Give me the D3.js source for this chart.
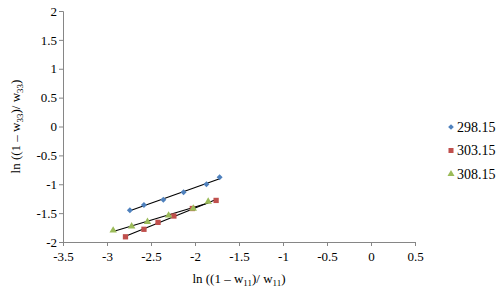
<!DOCTYPE html>
<html>
<head>
<meta charset="utf-8">
<script src="https://cdn.jsdelivr.net/npm/d3@7"></script>
<style>
  body { margin: 0; background: #fff; }
  svg text { font-family: "Liberation Serif", "Times New Roman", Tinos, serif; fill: #000; }
</style>
</head>
<body>
<div id="container"></div>
<script>
/* CONSTANTS AND GLOBALS */
const width = 500,
  height = 297,
  margin = { top: 11, bottom: 55, left: 63, right: 85 },
  serif = "'Liberation Serif', 'Times New Roman', serif";

// series data
const seriesNames = ["298.15", "303.15", "308.15"];
const seriesColors = ["#4F81BD", "#C0504D", "#9BBB59"];
const x298 = [-2.74, -2.58, -2.36, -2.13, -1.87, -1.72];
const y298 = [-1.45, -1.36, -1.27, -1.14, -1.00, -0.88];
const x303 = [-2.79, -2.58, -2.42, -2.24, -2.03, -1.76];
const y303 = [-1.91, -1.78, -1.66, -1.55, -1.42, -1.28];
const x308 = [-2.93, -2.72, -2.54, -2.30, -2.02, -1.85];
const y308 = [-1.80, -1.73, -1.65, -1.54, -1.42, -1.30];
const xTicks = [-3.5, -3, -2.5, -2, -1.5, -1, -0.5, 0, 0.5];
const yTicks = [-2, -1.5, -1, -0.5, 0, 0.5, 1, 1.5, 2];

const series = [
  { name: seriesNames[0], color: seriesColors[0], shape: d3.symbolSquare, rot: 45, size: 18, xs: x298, ys: y298 },
  { name: seriesNames[1], color: seriesColors[1], shape: d3.symbolSquare, rot: 0, size: 28, xs: x303, ys: y303 },
  { name: seriesNames[2], color: seriesColors[2], shape: d3.symbolTriangle, rot: 0, size: 24, xs: x308, ys: y308 }
];
series.forEach(s => { s.points = s.xs.map((x, i) => ({ x: x, y: s.ys[i] })); });

/* SCALES */
const xScale = d3.scaleLinear()
  .domain([-3.5, 0.5])
  .range([margin.left, width - margin.right]);

const yScale = d3.scaleLinear()
  .domain([-2, 2])
  .range([height - margin.bottom, margin.top]);

const svg = d3.select("#container")
  .append("svg")
  .attr("width", width)
  .attr("height", height)
  .attr("font-family", serif);

// y axis
const yAxis = svg.append("g")
  .attr("transform", `translate(${margin.left}, 0)`)
  .call(d3.axisLeft(yScale).tickValues(yTicks).tickSize(4).tickFormat(d => String(d)));
yAxis.attr("font-family", serif).attr("font-size", 13);
yAxis.selectAll("path, line").attr("stroke", "#868686");
yAxis.selectAll("text").attr("x", -6);

// x axis at y = -2
const xAxis = svg.append("g")
  .attr("transform", `translate(0, ${yScale(-2)})`)
  .call(d3.axisBottom(xScale).tickValues(xTicks).tickSize(4).tickFormat(d => String(d)));
xAxis.attr("font-family", serif).attr("font-size", 13);
xAxis.selectAll("path, line").attr("stroke", "#868686");
xAxis.selectAll("text").attr("y", 10);

// linear trend lines (least squares)
function fit(pts) {
  const mx = d3.mean(pts, d => d.x), my = d3.mean(pts, d => d.y);
  const b = d3.sum(pts, d => (d.x - mx) * (d.y - my)) / d3.sum(pts, d => (d.x - mx) ** 2);
  return x => my + b * (x - mx);
}

series.forEach(s => {
  const f = fit(s.points);
  const ext = d3.extent(s.points, d => d.x);
  svg.append("line")
    .attr("x1", xScale(ext[0])).attr("y1", yScale(f(ext[0])))
    .attr("x2", xScale(ext[1])).attr("y2", yScale(f(ext[1])))
    .attr("stroke", "#000")
    .attr("stroke-width", 1.1);
});

// markers
series.forEach(s => {
  svg.selectAll(null)
    .data(s.points)
    .join("path")
    .attr("d", d3.symbol().type(s.shape).size(s.size))
    .attr("transform", d => `translate(${xScale(d.x)}, ${yScale(d.y)}) rotate(${s.rot})`)
    .attr("fill", s.color);
});

// legend
const legend = svg.append("g").attr("font-size", 14);
series.forEach((s, i) => {
  const ly = 127 + i * 23.5;
  legend.append("path")
    .attr("d", d3.symbol().type(s.shape).size(s.size * 0.9))
    .attr("transform", `translate(451, ${ly}) rotate(${s.rot})`)
    .attr("fill", s.color);
  legend.append("text")
    .attr("x", 457)
    .attr("y", ly + 4.5)
    .text(s.name);
});

// axis titles
const xTitle = svg.append("text")
  .attr("x", (margin.left + width - margin.right) / 2)
  .attr("y", 283)
  .attr("text-anchor", "middle")
  .attr("font-size", 13);
xTitle.append("tspan").text("ln ((1 \u2013 w");
xTitle.append("tspan").attr("font-size", 9).attr("dy", 3).text("11");
xTitle.append("tspan").attr("dy", -3).text(")/ w");
xTitle.append("tspan").attr("font-size", 9).attr("dy", 3).text("11");
xTitle.append("tspan").attr("dy", -3).text(")");

const yTitle = svg.append("text")
  .attr("transform", `translate(20, ${(margin.top + height - margin.bottom) / 2}) rotate(-90)`)
  .attr("text-anchor", "middle")
  .attr("font-size", 13);
yTitle.append("tspan").text("ln ((1 \u2013 w");
yTitle.append("tspan").attr("font-size", 9).attr("dy", 3).text("33");
yTitle.append("tspan").attr("dy", -3).text(")/ w");
yTitle.append("tspan").attr("font-size", 9).attr("dy", 3).text("33");
yTitle.append("tspan").attr("dy", -3).text(")");
</script>
</body>
</html>
